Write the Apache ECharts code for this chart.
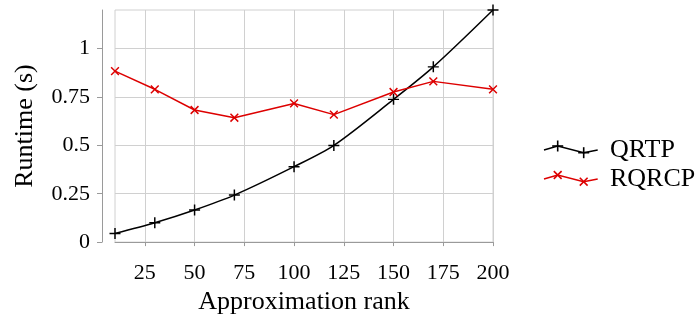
<!DOCTYPE html>
<html>
<head>
<meta charset="utf-8">
<script src="https://cdn.jsdelivr.net/npm/echarts@6/dist/echarts.min.js"></script>
<style>
  html, body { margin: 0; padding: 0; background: #fff; }
  #chart { width: 699px; height: 320px; }
</style>
</head>
<body>
<div id="chart"></div>
<script>
// Approximation rank on the x axis, runtime in seconds on the y axis
const rank = [10, 30, 50, 70, 100, 120, 150, 170, 200];
const qrtp = [0.045, 0.10, 0.166, 0.243, 0.39, 0.50, 0.738, 0.906, 1.2];
const rqrcp = [0.884, 0.79, 0.683, 0.643, 0.717, 0.659, 0.776, 0.831, 0.79];
const xTicks = [25, 50, 75, 100, 125, 150, 175, 200];
const yTicks = [0, 0.25, 0.5, 0.75, 1];
const seriesNames = ['QRTP', 'RQRCP'];

const FONT = 'Liberation Serif';
const BLACK = '#000000';
const RED = '#dd0000';
const GRID = '#d0d0d0';
const AXIS = '#9a9a9a';

// plus-shaped marker; rotated 45 degrees it becomes the cross
const PLUS = 'path://M0,5.2L12,5.2L12,6.8L0,6.8Z M5.2,0L6.8,0L6.8,12L5.2,12Z';

const pairs = (ys) => rank.map((x, i) => [x, ys[i]]);

const chart = echarts.init(document.getElementById('chart'), null, { renderer: 'canvas' });

// legend: zigzag sample line with two markers, then the name
function legendEntry(y, color, cross, label) {
  const x0 = 544;
  const pts = [[x0, y], [x0 + 13.7, y - 4], [x0 + 39.7, y + 2.7], [x0 + 53.7, y]];
  const items = [{
    type: 'polyline',
    shape: { points: pts },
    style: { stroke: color, lineWidth: 1.5, fill: null }
  }];
  [pts[1], pts[2]].forEach(([px, py]) => {
    const h = cross ? 3.9 : 5.5;
    const segs = cross
      ? [[px - h, py - h, px + h, py + h], [px - h, py + h, px + h, py - h]]
      : [[px - h, py, px + h, py], [px, py - h, px, py + h]];
    segs.forEach(([x1, y1, x2, y2]) => items.push({
      type: 'line',
      shape: { x1, y1, x2, y2 },
      style: { stroke: color, lineWidth: 1.6 }
    }));
  });
  items.push({
    type: 'text',
    x: 610,
    y: y,
    style: {
      text: label,
      font: '26px "' + FONT + '"',
      fill: '#000',
      verticalAlign: 'middle',
      align: 'left'
    }
  });
  return items;
}

chart.setOption({
  animation: false,
  backgroundColor: '#ffffff',
  textStyle: { fontFamily: FONT },
  grid: {
    left: 115, right: 206, top: 10, bottom: 77,
    show: true, borderColor: GRID, borderWidth: 1, backgroundColor: 'transparent'
  },
  xAxis: {
    type: 'value',
    min: 10, max: 200,
    offset: 14,
    name: 'Approximation rank',
    nameLocation: 'middle',
    nameGap: 31,
    nameTextStyle: { fontFamily: FONT, fontSize: 26, color: '#000' },
    axisLine: { show: true, lineStyle: { color: AXIS, width: 1 } },
    axisTick: { show: true, customValues: xTicks, length: 4, lineStyle: { color: AXIS, width: 1 } },
    axisLabel: { customValues: xTicks, fontFamily: FONT, fontSize: 22, color: '#000', margin: 6 },
    splitLine: { show: true, lineStyle: { color: GRID, width: 1 } }
  },
  yAxis: {
    type: 'value',
    min: 0, max: 1.2,
    offset: 13,
    name: 'Runtime (s)',
    nameLocation: 'middle',
    nameRotate: 90,
    nameGap: 64,
    nameTextStyle: { fontFamily: FONT, fontSize: 26, color: '#000' },
    axisLine: { show: true, lineStyle: { color: AXIS, width: 1 } },
    axisTick: { show: true, customValues: yTicks, length: 5, lineStyle: { color: AXIS, width: 1 } },
    axisLabel: {
      customValues: yTicks, fontFamily: FONT, fontSize: 22, color: '#000', margin: 12,
      formatter: (v) => String(v)
    },
    splitLine: { show: true, lineStyle: { color: GRID, width: 1 } }
  },
  series: [
    {
      name: seriesNames[0],
      type: 'line',
      data: pairs(qrtp),
      smooth: 0.3,
      clip: false,
      symbol: PLUS,
      symbolSize: 11,
      lineStyle: { color: BLACK, width: 1.5 },
      itemStyle: { color: BLACK, borderWidth: 0 }
    },
    {
      name: seriesNames[1],
      type: 'line',
      data: pairs(rqrcp),
      clip: false,
      symbol: PLUS,
      symbolSize: 11,
      symbolRotate: 45,
      lineStyle: { color: RED, width: 1.5 },
      itemStyle: { color: RED, borderWidth: 0 }
    }
  ],
  graphic: [
    ...legendEntry(150, BLACK, false, seriesNames[0]),
    ...legendEntry(179, RED, true, seriesNames[1])
  ]
});
</script>
</body>
</html>
